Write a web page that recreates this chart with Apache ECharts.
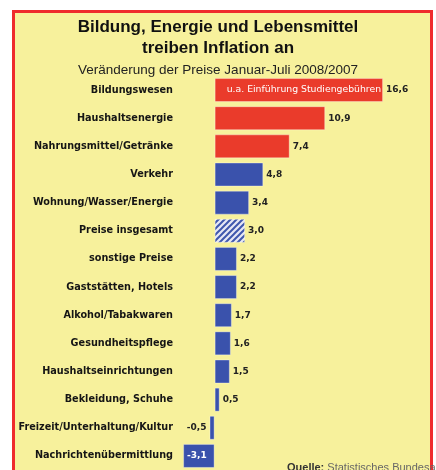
<!DOCTYPE html>
<html>
<head>
<meta charset="utf-8">
<script src="https://cdn.jsdelivr.net/npm/echarts@6/dist/echarts.min.js"></script>
<style>
  html, body { margin: 0; padding: 0; background: #fff; }
  #frame {
    position: absolute; left: 12px; top: 10px; width: 415px; height: 480px;
    border: 3px solid #ef2b2d; background: #f7f19c;
  }
  #chart { position: absolute; left: 0; top: 0; width: 436px; height: 470px; }
</style>
</head>
<body>
<div id="frame"></div>
<div id="chart"></div>
<script>
const categories = [
  'Bildungswesen', 'Haushaltsenergie', 'Nahrungsmittel/Getränke', 'Verkehr',
  'Wohnung/Wasser/Energie', 'Preise insgesamt', 'sonstige Preise',
  'Gaststätten, Hotels', 'Alkohol/Tabakwaren', 'Gesundheitspflege',
  'Haushaltseinrichtungen', 'Bekleidung, Schuhe', 'Freizeit/Unterhaltung/Kultur',
  'Nachrichtenübermittlung'
];
const values = [16.6, 10.9, 7.4, 4.8, 3.4, 3.0, 2.2, 2.2, 1.7, 1.6, 1.5, 0.5, -0.5, -3.1];
const drivers = ['Bildungswesen', 'Haushaltsenergie', 'Nahrungsmittel/Getränke'];
const total = 'Preise insgesamt';
const notes = { 'Bildungswesen': 'u.a. Einführung Studiengebühren' };

// hatched fill for the overall rate
const hatch = document.createElement('canvas');
hatch.width = 6;
hatch.height = 6;
const ctx = hatch.getContext('2d');
ctx.fillStyle = '#e6e7f4';
ctx.fillRect(0, 0, 6, 6);
ctx.strokeStyle = '#3f57ad';
ctx.lineWidth = 2;
ctx.beginPath();
ctx.moveTo(0, 6); ctx.lineTo(6, 0);
ctx.moveTo(-3, 3); ctx.lineTo(3, -3);
ctx.moveTo(3, 9); ctx.lineTo(9, 3);
ctx.stroke();

const fmt = v => v.toFixed(1).replace('.', ',');

const barData = values.map((v, i) => {
  const name = categories[i];
  let color = '#3a52ac';
  if (drivers.includes(name)) color = '#ea3b2b';
  if (name === total) color = { image: hatch, repeat: 'repeat' };
  const item = { value: v, itemStyle: { color: color } };
  if (v < 0 && v > -1) item.label = { position: 'left' };
  if (v <= -1) item.label = { position: 'inside', color: '#fff', offset: [-2, 0] };
  return item;
});

const noteData = categories.map((c, i) => ({
  value: values[i],
  label: { show: !!notes[c], formatter: notes[c] || '' }
}));

const chart = echarts.init(document.getElementById('chart'));
chart.setOption({
  animation: false,
  title: {
    text: 'Bildung, Energie und Lebensmittel\ntreiben Inflation an',
    subtext: 'Veränderung der Preise Januar-Juli 2008/2007',
    left: 'center',
    top: 12,
    itemGap: 4,
    textStyle: { fontFamily: 'Liberation Sans', fontSize: 17, fontWeight: 'bold', color: '#111', lineHeight: 21 },
    subtextStyle: { fontFamily: 'Liberation Sans', fontSize: 13.5, color: '#222' }
  },
  grid: { left: 174, top: 76, width: 243.6, height: 399 },
  xAxis: {
    type: 'value', min: -4, max: 20, show: false
  },
  yAxis: {
    type: 'category',
    data: categories,
    inverse: true,
    axisLine: { show: false },
    axisTick: { show: false },
    axisLabel: {
      margin: 1,
      fontFamily: 'DejaVu Sans', fontSize: 9.7, fontWeight: 'bold', color: '#151515'
    }
  },
  series: [
    {
      type: 'bar',
      data: barData,
      barWidth: 24,
      itemStyle: { borderColor: 'rgba(255,255,255,0.35)', borderWidth: 1 },
      label: {
        show: true, position: 'right', distance: 3,
        fontFamily: 'DejaVu Sans', fontSize: 9, fontWeight: 'bold', color: '#222',
        formatter: p => fmt(p.value)
      }
    },
    {
      type: 'bar',
      data: noteData,
      barWidth: 24,
      barGap: '-100%',
      silent: true,
      itemStyle: { color: 'rgba(0,0,0,0)' },
      label: {
        position: 'insideRight', distance: 2,
        fontFamily: 'DejaVu Sans', fontSize: 9.3, color: '#fff'
      }
    }
  ],
  graphic: [{
    type: 'text', left: 287, top: 462,
    style: {
      text: '{b|Quelle:} Statistisches Bundesamt',
      rich: {
        b: { fontFamily: 'Liberation Sans', fontSize: 11, fontWeight: 'bold', fill: '#333' }
      },
      fontFamily: 'Liberation Sans', fontSize: 11, fill: '#666'
    }
  }]
});
</script>
</body>
</html>
